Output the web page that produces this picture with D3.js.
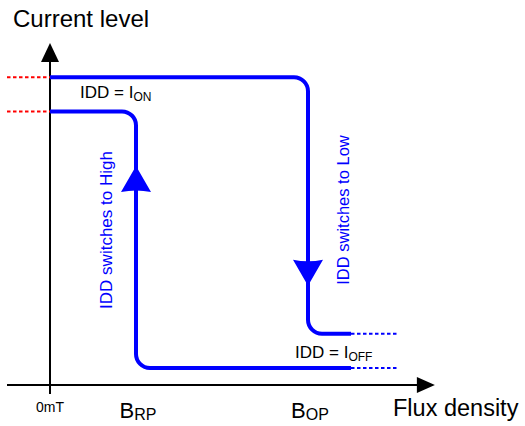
<!DOCTYPE html>
<html>
<head>
<meta charset="utf-8">
<script src="https://cdn.jsdelivr.net/npm/d3@7"></script>
<style>
  body { margin: 0; background: #fff; }
  svg { display: block; font-family: "Liberation Sans", Arial, sans-serif; }
</style>
</head>
<body>
<svg id="chart" width="525" height="426"></svg>
<script>
// flux values (arbitrary units) and current levels (arbitrary units)
var fluxAxis = [-10, 89.5]
var currentAxis = [0, 100]
var tickValues = [0, 20, 60]
var tickNames = ["0mT", "B", "B"]
var tickSubs = ["", "RP", "OP"]

var bRP = 20, bOP = 60, solidEnd = 70, dottedEnd = 81
var onHigh = 90, onLow = 80, offHigh = 15, offLow = 5

// the two hysteresis branches
var switchLow = [[0, onHigh], [bOP, onHigh], [bOP, offHigh], [solidEnd, offHigh]]
var switchHigh = [[0, onLow], [bRP, onLow], [bRP, offLow], [solidEnd, offLow]]
var redDots = [onHigh, onLow]
var blueDots = [offHigh, offLow]
var arrows = [{x: bRP, tip: 64, dir: 1}, {x: bOP, tip: 29, dir: -1}]

var x = d3.scaleLinear().domain([0, 100]).range([50, 480])
var y = d3.scaleLinear().domain([0, 100]).range([385, 43])

var svg = d3.select("#chart")
var blue = "#0000ff"

// axes
svg.append("line")
    .attr("x1", x(fluxAxis[0])).attr("x2", x(fluxAxis[1]) - 10)
    .attr("y1", y(0)).attr("y2", y(0))
    .attr("stroke", "#000").attr("stroke-width", 2)
svg.append("path")
    .attr("d", "M" + x(fluxAxis[1]) + "," + y(0) + "l-18,-8l0,16z")
    .attr("fill", "#000")
svg.append("line")
    .attr("x1", x(0)).attr("x2", x(0))
    .attr("y1", y(0) + 9).attr("y2", y(currentAxis[1]) + 10)
    .attr("stroke", "#000").attr("stroke-width", 2)
svg.append("path")
    .attr("d", "M" + x(0) + "," + y(currentAxis[1]) + "l-9,19l18,0z")
    .attr("fill", "#000")

// red dotted reference levels
svg.selectAll(".red").data(redDots).enter()
    .append("line")
    .attr("x1", x(fluxAxis[0])).attr("x2", x(0))
    .attr("y1", d => y(d)).attr("y2", d => y(d))
    .attr("stroke", "#ff0000").attr("stroke-width", 2)
    .attr("stroke-dasharray", "3.5,2.5")

// blue dotted continuation
svg.selectAll(".bdot").data(blueDots).enter()
    .append("line")
    .attr("x1", x(solidEnd)).attr("x2", x(dottedEnd))
    .attr("y1", d => y(d)).attr("y2", d => y(d))
    .attr("stroke", blue).attr("stroke-width", 2)
    .attr("stroke-dasharray", "3.5,2.5")

function roundedPath(pts) {
    var p = d3.path()
    p.moveTo(x(pts[0][0]), y(pts[0][1]))
    for (var i = 1; i < pts.length - 1; i++) {
        p.arcTo(x(pts[i][0]), y(pts[i][1]), x(pts[i + 1][0]), y(pts[i + 1][1]), 14)
    }
    var last = pts[pts.length - 1]
    p.lineTo(x(last[0]), y(last[1]))
    return p.toString()
}

svg.selectAll(".branch").data([switchLow, switchHigh]).enter()
    .append("path")
    .attr("d", roundedPath)
    .attr("fill", "none")
    .attr("stroke", blue).attr("stroke-width", 4)

svg.selectAll(".arrow").data(arrows).enter()
    .append("path")
    .attr("d", d => "M" + x(d.x) + "," + y(d.tip) +
        "l-15," + (26 * d.dir) + "q15," + (-3 * d.dir) + " 30,0z")
    .attr("fill", blue)

// texts
svg.append("text").attr("x", 13).attr("y", 27)
    .attr("font-size", 24).text("Current level")
svg.append("text").attr("x", 393).attr("y", 416)
    .attr("font-size", 23.5).text("Flux density")

var ticks = svg.selectAll(".tick").data(tickValues).enter()
    .append("text")
    .attr("x", (d, i) => x(d) + (tickSubs[i] ? 2 : 0))
    .attr("y", (d, i) => i == 0 ? 412 : 418)
    .attr("text-anchor", "middle")
    .attr("font-size", (d, i) => i == 0 ? 14 : 22)
ticks.append("tspan").text((d, i) => tickNames[i])
ticks.append("tspan").attr("font-size", 16).attr("dy", 2)
    .text((d, i) => tickSubs[i])

var on = svg.append("text").attr("x", 80).attr("y", 98).attr("font-size", 17)
on.append("tspan").text("IDD = I")
on.append("tspan").attr("font-size", 12).attr("dy", 3).text("ON")

var off = svg.append("text").attr("x", 295).attr("y", 358).attr("font-size", 17)
off.append("tspan").text("IDD = I")
off.append("tspan").attr("font-size", 12).attr("dy", 3).text("OFF")

svg.append("text")
    .attr("transform", "translate(" + 112 + "," + 230 + ") rotate(-90)")
    .attr("text-anchor", "middle").attr("font-size", 17).attr("fill", blue)
    .text("IDD switches to High")
svg.append("text")
    .attr("transform", "translate(" + 349 + "," + 210 + ") rotate(-90)")
    .attr("text-anchor", "middle").attr("font-size", 16.5).attr("fill", blue)
    .text("IDD switches to Low")
</script>
</body>
</html>
